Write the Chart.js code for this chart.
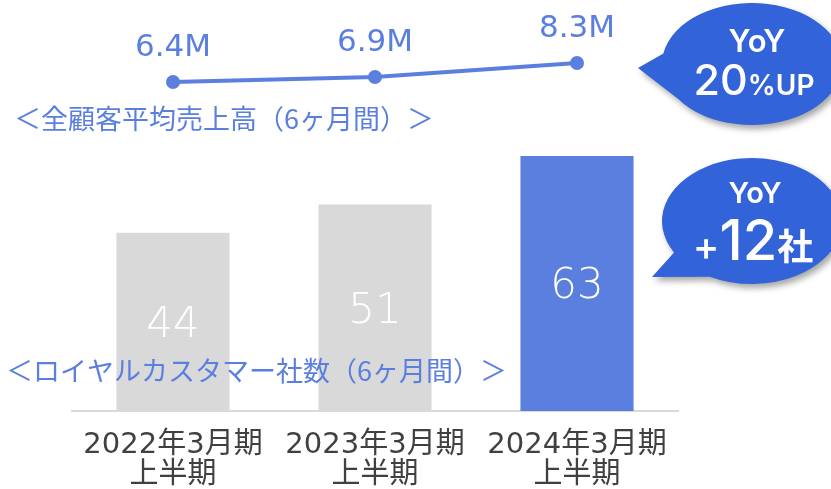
<!DOCTYPE html>
<html>
<head>
<meta charset="utf-8">
<script src="https://cdn.jsdelivr.net/npm/chart.js@4"></script>
<style>
html,body{margin:0;padding:0;background:#fff;}
#wrap{width:831px;height:489px;position:relative;}
</style>
</head>
<body>
<div id="wrap"><canvas id="c" width="831" height="489"></canvas></div>
<script>
// ---- data ----
const categories = [['2022年3月期', '上半期'], ['2023年3月期', '上半期'], ['2024年3月期', '上半期']];
const salesValues = [6.4, 6.9, 8.3];
const salesLabels = ['6.4M', '6.9M', '8.3M'];
const customerCounts = [44, 51, 63];
const barColors = ['#D9D9D9', '#D9D9D9', '#5B7FDF'];
const lineTitle = '＜全顧客平均売上高（6ヶ月間）＞';
const barTitle = '＜ロイヤルカスタマー社数（6ヶ月間）＞';
const salesCallout = ['YoY', '20', '%UP'];
const countCallout = ['YoY', '+', '12', '社'];

const BLUE = '#5B7FDF';
const BUBBLE = '#3263D8';
const NUMFONT = '"DejaVu Sans", "Noto Sans CJK JP", sans-serif';
const CJK = '"Noto Sans CJK JP", sans-serif';
const BFONT = 'Inter, "Noto Sans", sans-serif';

function drawBubble(ctx, cx, cy, rx, ry, a1, a2, tx, ty) {
  ctx.save();
  ctx.beginPath();
  ctx.ellipse(cx, cy, rx, ry, 0, a1 * Math.PI / 180, a2 * Math.PI / 180, false);
  ctx.lineTo(tx, ty);
  ctx.closePath();
  ctx.shadowColor = 'rgba(0,0,0,0.35)';
  ctx.shadowBlur = 6;
  ctx.shadowOffsetX = 3;
  ctx.shadowOffsetY = 4;
  ctx.fillStyle = BUBBLE;
  ctx.fill();
  ctx.restore();
}

function drawParts(ctx, parts, cx, baseline) {
  let total = 0;
  const widths = parts.map(p => { ctx.font = p[1]; const w = ctx.measureText(p[0]).width; total += w; return w; });
  let x = cx - total / 2;
  ctx.textAlign = 'left';
  ctx.textBaseline = 'alphabetic';
  parts.forEach((p, i) => { ctx.font = p[1]; ctx.fillText(p[0], x, baseline); x += widths[i]; });
}

const overlay = {
  id: 'overlay',
  afterDatasetsDraw(chart) {
    const ctx = chart.ctx;
    ctx.save();
    // line value labels
    const lineMeta = chart.getDatasetMeta(0);
    ctx.fillStyle = BLUE;
    ctx.font = '31px ' + NUMFONT;
    ctx.textAlign = 'center';
    ctx.textBaseline = 'alphabetic';
    lineMeta.data.forEach((pt, i) => {
      ctx.fillText(salesLabels[i], pt.x, pt.y - 26);
    });
    // bar value labels
    const barMeta = chart.getDatasetMeta(1);
    ctx.fillStyle = '#FFFFFF';
    ctx.font = '200 42px ' + NUMFONT;
    barMeta.data.forEach((bar, i) => {
      const mid = (bar.y + bar.base) / 2;
      ctx.fillText(String(customerCounts[i]), bar.x, mid + 15);
    });
    // titles
    ctx.fillStyle = BLUE;
    ctx.font = '27px ' + CJK;
    ctx.textAlign = 'left';
    ctx.textBaseline = 'middle';
    ctx.fillText(lineTitle, 14, 119);
    ctx.fillText(barTitle, 6, 371);
    // bubbles
    drawBubble(ctx, 752, 64, 90, 61, 190, 505, 638, 68);
    drawBubble(ctx, 752, 221, 90, 63, 150, 478, 652, 277);
    ctx.fillStyle = '#FFFFFF';
    drawParts(ctx, [[salesCallout[0], '600 31px ' + BFONT]], 757, 52);
    drawParts(ctx, [[salesCallout[1], '500 43px ' + BFONT], [salesCallout[2], '600 28px ' + BFONT]], 754, 95);
    drawParts(ctx, [[countCallout[0], '600 29px ' + BFONT]], 755, 203);
    drawParts(ctx, [[countCallout[1], '500 40px ' + BFONT], [countCallout[2], '500 56px ' + BFONT], [countCallout[3], 'bold 36px ' + CJK]], 753, 260);
    ctx.restore();
  }
};

new Chart(document.getElementById('c'), {
  type: 'bar',
  data: {
    labels: categories,
    datasets: [
      {
        type: 'line',
        data: salesValues,
        yAxisID: 'y2',
        borderColor: BLUE,
        backgroundColor: BLUE,
        borderWidth: 4,
        pointRadius: 7,
        pointBackgroundColor: BLUE,
        pointBorderWidth: 0,
        tension: 0,
        clip: false
      },
      {
        type: 'bar',
        data: customerCounts,
        yAxisID: 'y',
        backgroundColor: barColors,
        borderWidth: 0,
        categoryPercentage: 1,
        barPercentage: 0.56
      }
    ]
  },
  options: {
    responsive: false,
    devicePixelRatio: 1,
    animation: false,
    events: [],
    layout: { autoPadding: false, padding: { left: 72, right: 153, top: 0, bottom: 0 } },
    plugins: { legend: { display: false }, tooltip: { enabled: false }, title: { display: false } },
    scales: {
      x: {
        grid: { display: false, drawTicks: false },
        border: { display: true, color: '#D9D9D9', width: 2 },
        ticks: {
          color: '#404040',
          font: { family: NUMFONT, size: 29, lineHeight: 1.03 },
          padding: 20,
          maxRotation: 0,
          autoSkip: false
        },
        afterFit(scale) { scale.height = 78; }
      },
      y: { display: false, min: 0, max: 101.5 },
      y2: { display: false, min: -26.5, max: 14.6 }
    }
  },
  plugins: [overlay]
});
</script>
</body>
</html>
